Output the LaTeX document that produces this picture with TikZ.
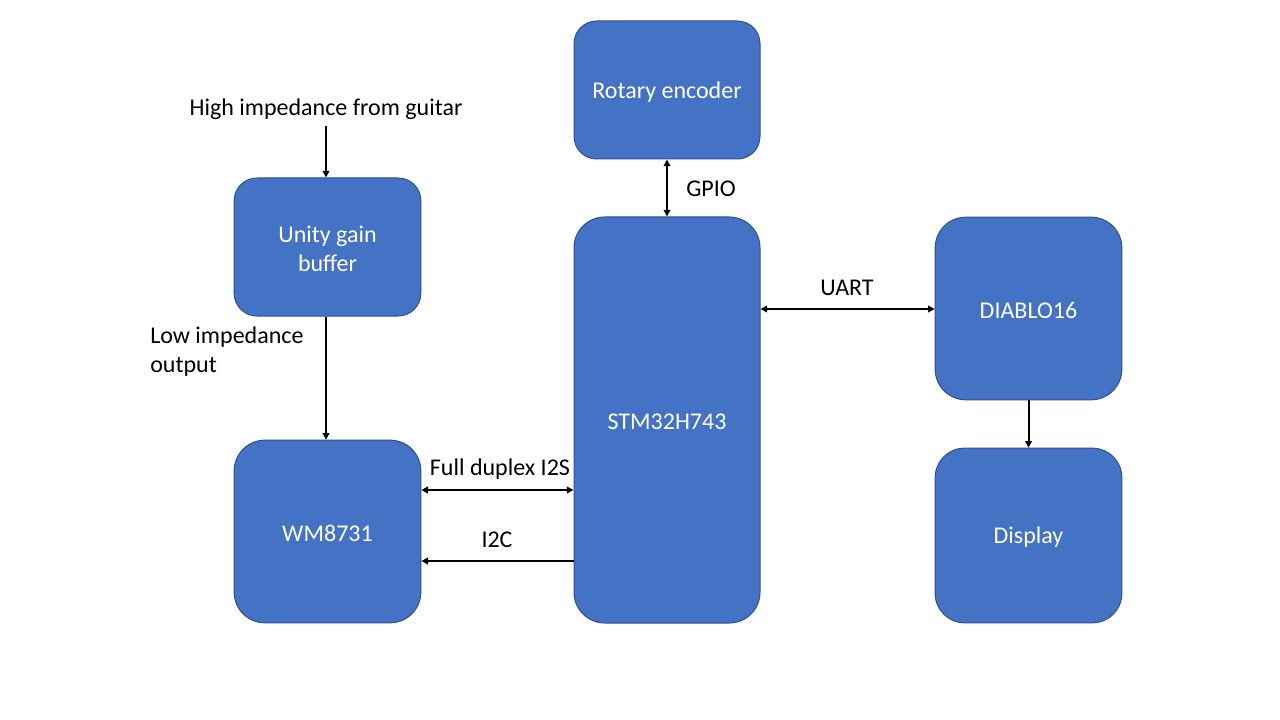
\documentclass[tikz,border=0pt]{standalone}
\usepackage{fontspec}
\setmainfont{Carlito}
\usetikzlibrary{arrows.meta}
\definecolor{boxfill}{HTML}{4472C4}
\definecolor{boxline}{HTML}{2F528F}
\begin{document}
\begin{tikzpicture}[x=0.75pt,y=-0.75pt,
  blk/.style={draw=boxline,fill=boxfill,line width=0.75pt,inner sep=0pt},
  blktxt/.style={label={[text=white,font=\fontsize{18}{21.75}\selectfont,align=center,inner sep=0pt,yshift=-1.5pt]center:#1}},
  lbl/.style={font=\fontsize{18}{21.75}\selectfont,text=black,inner sep=0pt,yshift=-1.5pt},
  conn/.style={line width=1.5pt,{Triangle[length=5pt,width=5pt]}-{Triangle[length=5pt,width=5pt]}},
  conn1/.style={line width=1.5pt,-{Triangle[length=5pt,width=5pt]}}]
\useasboundingbox (0,0) rectangle (1280,720);
\fill[white] (0,0) rectangle (1280,720);
% boxes
\node[blk,rounded corners=17pt,minimum width=139.5pt,minimum height=103.5pt,blktxt={Rotary encoder}] (rot) at (667,90) {};
\node[blk,rounded corners=17pt,minimum width=140pt,minimum height=103.5pt,blktxt={Unity gain\\buffer}] (ugb) at (327.5,247) {};
\node[blk,rounded corners=23pt,minimum width=140pt,minimum height=137pt,blktxt={WM8731}] (wm) at (327.5,531.5) {};
\node[blk,rounded corners=23pt,minimum width=139.5pt,minimum height=304.5pt,blktxt={STM32H743}] (stm) at (667,420) {};
\node[blk,rounded corners=23pt,minimum width=140pt,minimum height=137pt,blktxt={DIABLO16}] (dia) at (1028.5,308.5) {};
\node[blk,rounded corners=22pt,minimum width=140pt,minimum height=131pt,blktxt={Display}] (disp) at (1028.5,535.5) {};
% labels
\node[lbl] (hi) at (326,107) {High impedance from guitar};
\node[lbl,align=left,anchor=west] (lo) at (150,350) {Low impedance\\output};
\node[lbl] (gpio) at (711,187) {GPIO};
\node[lbl] (uart) at (847,286) {UART};
\node[lbl] (i2s) at (500,467) {Full duplex I2S};
\node[lbl] (i2c) at (497,538) {I2C};
\coordinate (hiend) at (326,126);
% connectors
\draw[conn1] (hiend) -- (ugb.north -| hiend);
\draw[conn1] (ugb.south -| hiend) -- (wm.north -| hiend);
\draw[conn] (rot.south) -- (stm.north);
\draw[conn] (stm.east |- 0,309) -- (dia.west |- 0,309);
\draw[conn1] (dia.south) -- (disp.north);
\draw[conn] (wm.east |- 0,490) -- (stm.west |- 0,490);
\draw[conn1] (stm.west |- 0,561) -- (wm.east |- 0,561);
\end{tikzpicture}
\end{document}
